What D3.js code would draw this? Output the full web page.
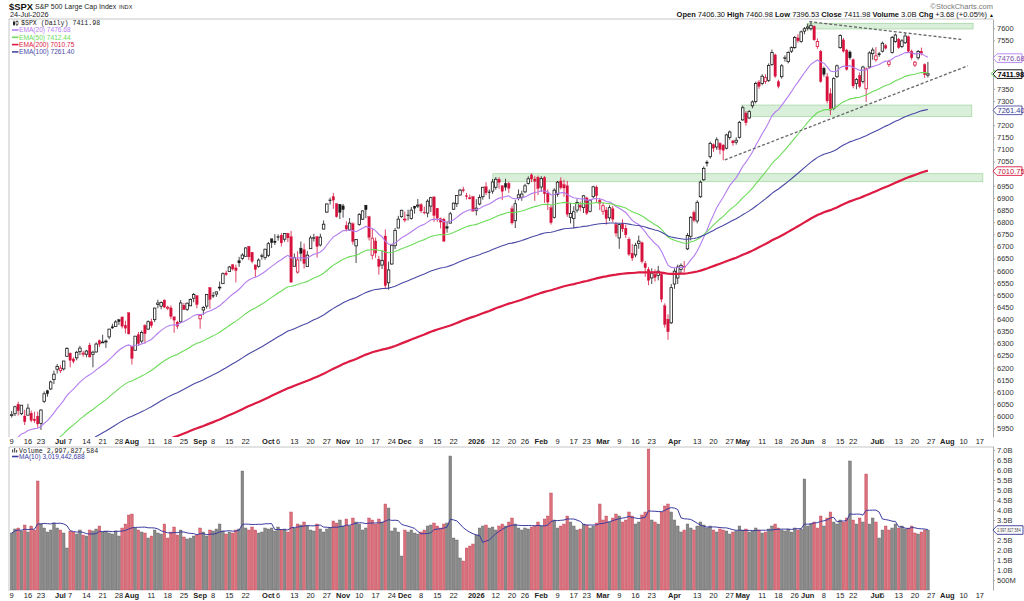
<!DOCTYPE html>
<html>
<head>
<meta charset="utf-8">
<script src="https://cdn.jsdelivr.net/npm/d3@7/dist/d3.min.js"></script>
<style>
body { margin: 0; background: #fff; }
svg { display: block; font-family: "Liberation Sans", Arial, sans-serif; }
.axis text { font-size: 7.5px; fill: #333; font-family: "Liberation Sans", Arial, sans-serif; }
.axis path, .axis line { stroke: #aaa; }
</style>
</head>
<body>
<div class="graphic"></div>
<script>
var width = 1024;
var height = 601;

// trading calendar
var firstDay = "2025-06-09";
var lastAxisDay = "2026-08-21";
var holidays = ["2025-06-19","2025-07-04","2025-09-01","2025-11-27","2025-12-25","2026-01-01",
	"2026-01-19","2026-02-16","2026-04-03","2026-05-25","2026-06-19","2026-07-03"];

// date axis labels
var xTicks = [["2025-06-09","9"],["2025-06-16","16"],["2025-06-23","23"],["2025-07-01","Jul"],["2025-07-07","7"],
	["2025-07-14","14"],["2025-07-21","21"],["2025-07-28","28"],["2025-08-01","Aug"],["2025-08-11","11"],
	["2025-08-18","18"],["2025-08-25","25"],["2025-09-02","Sep"],["2025-09-08","8"],["2025-09-15","15"],
	["2025-09-22","22"],["2025-10-01","Oct"],["2025-10-06","6"],["2025-10-13","13"],["2025-10-20","20"],
	["2025-10-27","27"],["2025-11-03","Nov"],["2025-11-10","10"],["2025-11-17","17"],["2025-11-24","24"],
	["2025-12-01","Dec"],["2025-12-08","8"],["2025-12-15","15"],["2025-12-22","22"],["2026-01-02","2026"],
	["2026-01-12","12"],["2026-01-20","20"],["2026-01-26","26"],["2026-02-02","Feb"],["2026-02-09","9"],
	["2026-02-17","17"],["2026-02-23","23"],["2026-03-02","Mar"],["2026-03-09","9"],["2026-03-16","16"],
	["2026-03-23","23"],["2026-04-01","Apr"],["2026-04-13","13"],["2026-04-20","20"],["2026-04-27","27"],
	["2026-05-01","May"],["2026-05-11","11"],["2026-05-18","18"],["2026-05-26","26"],["2026-06-01","Jun"],
	["2026-06-08","8"],["2026-06-15","15"],["2026-06-22","22"],["2026-07-01","Jul"],["2026-07-06","6"],
	["2026-07-13","13"],["2026-07-20","20"],["2026-07-27","27"],["2026-08-03","Aug"],["2026-08-10","10"],
	["2026-08-17","17"]];

// daily candles, one line per month
var openP = [
	6004.6,6009.9,6049.4,6009.9,6000.6,6004.0,6012.2,5987.9,5999.7,5969.7,6061.2,6104.9,6112.1,6150.7,6193.4,
	6187.3,6194.9,6246.7,6259.8,6235.9,6240.5,6266.0,6255.8,6255.2,6292.9,6254.9,6264.7,6311.6,6304.7,6306.6,6326.9,6368.6,6370.0,6397.7,6409.3,6374.8,6427.0,
	6287.3,6271.7,6336.0,6309.3,6374.3,6359.0,6389.7,6397.9,6460.5,6453.4,6478.9,6445.1,6446.3,6409.6,6388.1,6388.7,6457.7,6440.5,6455.0,6486.3,6497.4,
	6401.5,6437.9,6453.9,6530.1,6498.1,6503.6,6530.3,6546.3,6590.5,6596.8,6624.4,6611.6,6641.2,6650.9,6659.3,6700.3,6676.2,6624.0,6618.0,6661.4,6654.6,
	6663.5,6731.3,6722.1,6740.3,6746.4,6729.6,6753.8,6740.2,6618.1,6594.1,6693.2,6686.7,6617.1,6690.7,6736.3,6740.6,6705.9,6771.5,6841.7,6891.7,6905.7,6876.6,6873.7,
	6867.2,6787.0,6768.1,6793.5,6702.3,6790.9,6812.2,6870.4,6822.6,6663.7,6722.6,6647.2,6623.1,6743.0,6550.0,6627.5,6702.8,6775.7,6822.5,
	6812.4,6830.0,6815.3,6866.5,6866.3,6872.0,6841.3,6837.4,6866.3,6904.1,6857.5,6814.6,6812.6,6781.3,6795.9,6853.4,6876.0,6912.1,6934.3,6908.9,6901.2,6905.5,
	6848,6875,6905,6946,6925,6928,6944,6977,6950,6960,6960,6855,6806,6900,6903,6925,6960,6995,6978,6985,
	6945,6985,6920,6860,6820,6915,6970,6955,6950,6820,6815,6850,6870,6860,6900,6845,6905,6945,6890,
	6845,6850,6818,6855,6790,6735,6795,6775,6730,6672,6665,6712,6715,6630,6605,6570,6585,6580,6585,6455,6400,6385,
	6545,6570,6605,6618,6690,6742,6840,6805,6905,6975,7048,7070,7120,7110,7125,7118,7105,7150,7135,7130,7150,
	7222,7250,7230,7280,7298,7378,7372,7380,7385,7450,7490,7380,7400,7478,7462,7505,7520,7560,7545,7588,
	7600,7598,7608,7525,7505,7435,7400,7330,7270,7400,7520,7552,7510,7502,7470,7372,7405,7380,7350,7440,7495,
	7470,7495,7505,7528,7450,7500,7545,7555,7525,7540,7565,7505,7448,7478,7505,7450,7406.3];
var highP = [
	6021.3,6043.0,6059.4,6045.4,6026.2,6050.8,6023.3,6018.3,6018.2,6028.4,6101.8,6108.5,6146.5,6187.7,6215.1,
	6210.8,6227.6,6284.7,6262.7,6242.7,6269.1,6290.2,6269.4,6273.3,6302.0,6269.7,6304.4,6315.6,6336.1,6316.1,6360.6,6381.3,6395.8,6401.1,6409.3,6393.4,6427.0,
	6287.3,6330.0,6346.9,6352.9,6379.0,6395.2,6402.0,6446.8,6480.3,6473.8,6481.3,6455.4,6456.6,6410.0,6393.2,6478.6,6466.9,6468.4,6485.4,6508.2,6497.5,
	6416.5,6453.7,6502.5,6532.7,6511.6,6513.1,6555.0,6592.9,6600.2,6619.6,6626.9,6624.5,6656.8,6671.8,6696.3,6701.1,6676.2,6624.0,6650.8,6670.0,6690.3,
	6718.5,6731.9,6750.9,6749.5,6754.4,6753.7,6755.9,6764.2,6670.8,6680.2,6720.3,6711.8,6681.3,6744.4,6752.0,6741.7,6752.3,6807.5,6877.0,6901.6,6920.3,6876.6,6873.7,
	6875.6,6803.4,6817.3,6799.2,6730.1,6836.7,6848.6,6870.4,6826.1,6775.3,6736.4,6660.7,6683.2,6770.4,6637.4,6707.5,6776.2,6826.2,6851.0,
	6843.7,6851.6,6862.4,6866.5,6895.8,6878.5,6864.1,6894.5,6904.7,6907.1,6857.5,6819.0,6818.0,6803.5,6842.8,6881.0,6910.6,6937.3,6945.8,6920.3,6913.9,6907.4,
	6895,6914,6945,6965,6935,6978,6986,6985,6952,6979,6967,6868,6891,6935,6930,6958,6989,7002,6990,6992,
	6990,6990,6935,6870,6940,6970,6985,6975,6970,6880,6866,6895,6885,6912,6905,6895,6950,6952,6900,
	6880,6862,6870,6868,6800,6795,6812,6790,6738,6710,6715,6745,6720,6640,6615,6610,6605,6620,6590,6465,6420,6545,
	6610,6625,6630,6640,6755,6825,6848,6890,6972,7030,7055,7132,7125,7150,7130,7122,7165,7178,7140,7150,7218,
	7280,7258,7262,7302,7380,7386,7410,7410,7455,7512,7495,7388,7452,7488,7505,7525,7568,7575,7590,7605,
	7618,7626,7612,7558,7510,7442,7415,7352,7398,7450,7575,7560,7515,7508,7475,7395,7418,7445,7438,7505,7520,
	7522,7502,7545,7535,7470,7568,7578,7560,7555,7582,7570,7512,7465,7510,7520,7455,7460.98];
var lowP = [
	5994.2,6000.3,6002.3,6003.9,5963.2,6004.0,5974.8,5971.9,5952.6,5943.2,6054.6,6080.1,6107.9,6132.4,6175.7,
	6178.0,6188.3,6246.7,6201.8,6217.4,6230.3,6251.7,6245.4,6242.7,6242.7,6201.3,6262.6,6285.2,6303.8,6281.7,6317.5,6360.6,6368.5,6375.8,6361.8,6341.2,6336.3,
	6212.7,6271.7,6289.6,6301.6,6300.3,6355.8,6364.9,6388.4,6445.0,6441.0,6445.7,6437.6,6400.2,6343.9,6360.2,6384.4,6438.1,6434.0,6453.8,6469.7,6444.9,
	6360.6,6417.0,6443.3,6443.0,6487.3,6492.0,6517.8,6545.8,6578.4,6596.8,6600.9,6551.6,6615.5,6643.2,6659.0,6643.3,6630.5,6573.6,6612.0,6645.6,6644.9,
	6656.2,6693.2,6705.7,6723.8,6699.9,6719.3,6717.8,6550.8,6618.1,6587.7,6638.6,6608.7,6615.6,6690.7,6720.0,6654.1,6700.0,6770.4,6838.6,6872.7,6855.1,6818.7,6812.6,
	6818.7,6761.7,6764.7,6707.3,6631.4,6785.6,6809.3,6816.6,6724.7,6646.6,6652.8,6583.7,6607.0,6525.4,6521.2,6624.6,6688.9,6775.7,6818.3,
	6799.9,6806.7,6810.4,6834.9,6858.3,6838.5,6832.5,6820.4,6841.7,6801.5,6801.4,6774.2,6720.0,6756.5,6795.9,6850.3,6862.5,6909.8,6922.9,6893.5,6893.3,6843.5,
	6828,6870,6893,6912,6895,6917,6934,6938,6891,6930,6921,6790,6776,6890,6888,6920,6955,6965,6888,6912,
	6925,6880,6850,6790,6815,6905,6935,6905,6822,6795,6775,6840,6845,6838,6830,6840,6900,6880,6850,
	6830,6790,6805,6800,6740,6690,6760,6735,6660,6640,6655,6690,6630,6575,6540,6545,6555,6560,6470,6365,6315,6380,
	6525,6545,6590,6595,6685,6725,6800,6795,6900,6970,7030,7062,7090,7098,7080,7055,7100,7140,7115,7120,7145,
	7218,7198,7225,7270,7290,7350,7365,7370,7378,7445,7395,7352,7392,7462,7455,7498,7515,7540,7540,7575,
	7590,7590,7548,7515,7375,7400,7290,7242,7262,7395,7515,7500,7425,7470,7352,7348,7352,7372,7296,7435,7470,
	7462,7482,7500,7512,7440,7495,7540,7515,7518,7535,7500,7470,7440,7470,7488,7395,7396.53];
var closeP = [
	6005.9,6038.8,6022.2,6045.3,5977.0,6033.1,5982.7,5980.9,5967.8,6025.2,6092.2,6092.2,6141.0,6173.1,6205.0,
	6198.0,6227.4,6279.4,6230.0,6225.5,6263.3,6280.5,6259.8,6268.6,6243.8,6263.7,6297.4,6296.8,6305.6,6309.6,6358.9,6363.4,6388.6,6389.8,6370.9,6362.9,6339.4,
	6238.0,6329.9,6299.2,6345.1,6340.0,6389.5,6373.5,6445.8,6466.6,6468.5,6449.8,6449.2,6411.4,6395.8,6370.2,6466.9,6439.3,6465.9,6481.4,6501.9,6460.3,
	6415.5,6448.3,6502.1,6481.5,6495.2,6512.6,6532.0,6587.5,6584.3,6615.3,6606.8,6600.4,6632.0,6664.4,6693.8,6656.9,6638.0,6604.7,6643.7,6661.2,6688.5,
	6711.2,6715.4,6715.8,6740.3,6714.6,6753.7,6735.1,6552.5,6654.7,6644.3,6671.1,6629.1,6664.0,6735.1,6735.4,6699.4,6738.4,6791.7,6875.2,6890.9,6890.6,6822.3,6840.2,
	6852.0,6771.6,6796.3,6720.3,6728.8,6832.4,6846.6,6850.9,6737.5,6734.1,6672.4,6617.3,6642.2,6538.8,6603.0,6705.1,6765.9,6812.6,6849.1,
	6812.6,6829.4,6849.7,6857.1,6870.4,6846.5,6840.5,6886.7,6901.0,6827.4,6816.5,6800.3,6721.4,6774.8,6834.5,6878.5,6909.8,6932.1,6929.9,6905.7,6896.2,6845.5,
	6858,6902,6944,6921,6922,6966,6977,6964,6927,6944,6940,6797,6876,6913,6916,6950,6979,6978,6969,6939,
	6980,6917,6883,6798,6932,6965,6942,6941,6833,6836,6843,6881,6862,6909,6837,6890,6946,6909,6878,
	6868,6815,6860,6812,6755,6790,6772,6748,6668,6652,6705,6722,6638,6612,6560,6590,6572,6598,6482,6378,6348,6530,
	6598,6615,6622,6612,6745,6820,6808,6882,6965,7022,7043,7125,7105,7140,7100,7096,7160,7172,7127,7138,7212,
	7272,7210,7256,7296,7372,7360,7402,7396,7446,7500,7402,7360,7445,7475,7500,7520,7562,7548,7585,7598,
	7605,7612,7552,7545,7380,7410,7300,7262,7392,7445,7570,7505,7430,7478,7362,7388,7360,7440,7432,7498,7510,
	7486,7490,7538,7518,7462,7562,7572,7520,7548,7568,7505,7478,7460,7504,7496,7408.3,7411.98];
// daily volume, billions of shares
var volB = [
	2.85,3.05,3.1,2.95,3.25,2.9,3.2,3.0,5.45,3.3,3.1,2.9,3.0,3.35,3.1,
	3.0,2.85,2.1,2.95,2.9,2.8,3.0,2.75,2.7,3.0,2.95,3.05,3.2,2.9,2.95,2.85,2.8,2.95,2.7,3.1,3.3,3.75,
	3.8,3.1,3.0,2.9,2.85,2.6,2.7,3.0,2.85,2.8,3.3,2.6,2.9,3.15,2.75,3.0,2.65,2.55,2.6,2.7,2.75,
	3.1,2.9,2.7,3.0,2.95,3.05,3.3,2.95,2.8,2.9,2.85,3.0,3.05,5.95,3.1,3.0,3.15,3.0,2.85,2.9,3.1,
	3.05,3.1,2.95,3.15,3.0,3.05,2.9,3.9,3.1,3.3,3.25,3.4,3.2,3.0,2.95,3.3,3.05,2.9,3.05,3.1,3.45,3.35,3.5,
	3.2,3.55,3.2,3.6,3.4,3.3,3.0,3.1,3.6,3.5,3.3,3.55,3.4,4.3,4.1,2.95,3.1,2.9,1.7,
	3.0,2.9,3.0,2.85,2.8,2.9,3.0,3.2,3.25,3.35,3.2,3.1,3.3,3.35,6.7,2.6,2.5,1.6,1.45,2.1,2.2,2.3,
	2.75,3.1,3.2,3.25,3.1,3.15,3.0,3.2,3.3,3.2,3.4,3.6,3.3,3.1,3.0,3.1,3.05,3.15,3.2,3.4,
	3.2,3.55,3.7,4.85,3.5,3.1,3.2,3.3,3.7,3.4,3.2,3.0,3.05,3.3,3.25,3.1,3.2,3.35,4.3,
	3.5,3.7,3.4,3.6,3.8,3.7,3.4,3.5,3.9,3.7,3.3,3.4,3.75,3.9,7.05,3.5,3.4,3.3,3.9,4.2,4.3,3.9,
	3.5,3.2,2.9,3.0,3.3,3.1,3.0,3.2,3.4,3.25,3.1,3.2,3.0,2.9,3.05,3.0,2.95,2.8,2.9,2.95,3.2,
	3.0,3.05,2.9,2.95,3.1,3.0,2.85,2.9,3.05,3.2,3.3,3.1,3.0,2.95,3.05,2.9,3.1,3.0,3.05,5.55,
	3.2,3.3,3.4,3.1,3.7,3.2,3.6,3.9,3.4,3.3,3.5,3.4,3.6,6.45,3.5,3.3,3.6,3.4,5.8,3.3,3.6,
	3.4,2.6,3.0,3.2,3.0,3.1,3.3,3.1,3.2,3.05,3.1,3.2,2.85,2.8,2.9,3.0,2.998];

// moving averages: period, value carried in from before the first day, value printed in the legend
var emaPeriods = [20, 50, 200, 100];
var emaSeeds = [5876, 5775, 5677, 5743];
var emaLast = ["7476.68", "7412.44", "7010.75", "7261.40"];

// drawn annotations (day index, price)
var zoneFrom = [244.8, 224.7, 148.1];
var zoneTo = [295.9, 295.5, 298.9];
var zoneLow = [7597, 7236, 6967];
var zoneHigh = [7620, 7283, 7000];
var trendUpper = [[245.5, 7627], [292.8, 7553]];
var trendLower = [[219.5, 7057], [294.3, 7445]];

var priceTicks = d3.range(5950, 7601, 50);
var volTicks = [0.5, 1, 1.5, 2, 2.5, 3, 3.5, 4, 4.5, 5, 5.5, 6, 6.5, 7];

// ---- styles
var emaColors = ["#b47cf0", "#6ddc5a", "#dd1a42", "#4a4aa6"];
var emaWidths = [1.1, 1.1, 2.2, 1.1];
var redC = "#d6113c";
var blackC = "#1a1a1a";

var svg = d3.select("div.graphic").append("svg")
	.attr("width", width)
	.attr("height", height);

// build the calendar of trading days
var parseDay = d3.utcParse("%Y-%m-%d");
var fmtDay = d3.utcFormat("%Y-%m-%d");
var days = [];
for (var d = parseDay(firstDay); d <= parseDay(lastAxisDay); d = d3.utcDay.offset(d, 1)) {
	var wd = d.getUTCDay();
	if (wd == 0 || wd == 6) continue;
	if (holidays.indexOf(fmtDay(d)) >= 0) continue;
	days.push(fmtDay(d));
}

var n = closeP.length;
var x = d3.scaleLinear().domain([0, n - 1]).range([11.7, 927.9]);
var y = d3.scaleLinear().domain([5914, 7638]).range([437, 19]);
var yv = d3.scaleLinear().domain([0, 7.2]).range([590, 446]);

svg.append("clipPath").attr("id", "priceClip")
	.append("rect").attr("x", 9).attr("y", 19).attr("width", 984).attr("height", 418);
svg.append("clipPath").attr("id", "volClip")
	.append("rect").attr("x", 9).attr("y", 447).attr("width", 984).attr("height", 144);

// frames
var frame = svg.append("g").attr("stroke", "#b8b8b8").attr("fill", "none").attr("stroke-width", 0.8);
frame.append("path").attr("d", "M9,437V19H993");
frame.append("path").attr("d", "M9,591V447H993");

// ---- price panel
var price = svg.append("g").attr("clip-path", "url(#priceClip)");

price.selectAll("rect.zone")
	.data(zoneFrom)
	.enter()
	.append("rect")
	.attr("class", "zone")
	.attr("x", function(v) { return x(v); })
	.attr("width", function(v, k) { return x(zoneTo[k]) - x(v); })
	.attr("y", function(v, k) { return y(zoneHigh[k]); })
	.attr("height", function(v, k) { return y(zoneLow[k]) - y(zoneHigh[k]); })
	.attr("fill", "rgba(150,210,150,0.35)")
	.attr("stroke", "#a6d8a6")
	.attr("stroke-width", 0.8);

var candles = d3.range(n).map(function(i) {
	return { i: i, o: openP[i], h: highP[i], l: lowP[i], c: closeP[i], prev: i ? closeP[i - 1] : openP[i] };
});
function candleColor(k) { return k.c >= k.prev ? blackC : redC; }

price.selectAll("line.wick")
	.data(candles)
	.enter()
	.append("line")
	.attr("class", "wick")
	.attr("x1", function(k) { return x(k.i); })
	.attr("x2", function(k) { return x(k.i); })
	.attr("y1", function(k) { return y(k.h); })
	.attr("y2", function(k) { return y(k.l); })
	.attr("stroke", candleColor)
	.attr("stroke-width", 0.8);

price.selectAll("rect.body")
	.data(candles)
	.enter()
	.append("rect")
	.attr("class", "body")
	.attr("x", function(k) { return x(k.i) - 1.25; })
	.attr("width", 2.5)
	.attr("y", function(k) { return y(Math.max(k.o, k.c)); })
	.attr("height", function(k) { return Math.max(0.8, Math.abs(y(k.o) - y(k.c))); })
	.attr("fill", function(k) { return k.c > k.o ? "#fff" : candleColor(k); })
	.attr("stroke", candleColor)
	.attr("stroke-width", function(k) { return k.c > k.o ? 0.8 : 0.3; });

function ema(period, seed) {
	var k = 2 / (period + 1), prev = seed;
	return closeP.map(function(c) { prev = prev + k * (c - prev); return prev; });
}
var emaLine = d3.line()
	.x(function(v, i) { return x(i); })
	.y(function(v) { return y(v); });
emaPeriods.forEach(function(p, k) {
	price.append("path")
		.datum(ema(p, emaSeeds[k]))
		.attr("d", emaLine)
		.attr("fill", "none")
		.attr("stroke", emaColors[k])
		.attr("stroke-width", emaWidths[k]);
});

[trendUpper, trendLower].forEach(function(t) {
	price.append("line")
		.attr("x1", x(t[0][0])).attr("y1", y(t[0][1]))
		.attr("x2", x(t[1][0])).attr("y2", y(t[1][1]))
		.attr("stroke", "#666")
		.attr("stroke-width", 1.3)
		.attr("stroke-dasharray", "3,2");
});

// right-edge value tags; tick labels sitting under a tag are left out
var tagPrices = [+emaLast[0], +emaLast[1], closeP[n - 1], +emaLast[3], +emaLast[2]];
function freeTick(v) {
	return tagPrices.every(function(t) { return Math.abs(y(t) - y(v)) > 6.5; });
}

svg.append("g")
	.attr("class", "axis")
	.attr("transform", "translate(993,0)")
	.call(d3.axisRight(y).tickValues(priceTicks.filter(freeTick)).tickSizeInner(2).tickSizeOuter(0).tickPadding(2)
		.tickFormat(d3.format("d")));

function tag(yy, txt, stroke, color, bold) {
	svg.append("path")
		.attr("d", "M993," + yy + "L997," + (yy - 4.3) + "H1022V" + (yy + 4.3) + "H997Z")
		.attr("fill", "#fff").attr("stroke", stroke).attr("stroke-width", 0.9);
	svg.append("text").attr("x", 997.5).attr("y", yy + 2.7)
		.attr("font-size", 7.5).attr("font-weight", bold ? "bold" : "normal")
		.attr("fill", color).text(txt);
}
tag(y(+emaLast[0]), emaLast[0], emaColors[0], "#7a55a8");
// EMA(50) tag sits under the close tag, only its point shows
svg.append("path")
	.attr("d", "M991," + y(+emaLast[1]) + "L995," + (y(+emaLast[1]) - 3.5) + "V" + (y(+emaLast[1]) + 3.5) + "Z")
	.attr("fill", "#fff").attr("stroke", emaColors[1]).attr("stroke-width", 0.9);
tag(y(closeP[n - 1]) + 0.3, "7411.98", "#000", "#000", true);
tag(y(+emaLast[3]), emaLast[3], emaColors[3], "#3a3a90");
tag(y(+emaLast[2]), emaLast[2], emaColors[2], "#c02040");

// ---- volume panel
var vol = svg.append("g").attr("clip-path", "url(#volClip)");
vol.selectAll("rect.vol")
	.data(candles)
	.enter()
	.append("rect")
	.attr("class", "vol")
	.attr("x", function(k) { return x(k.i) - 1.35; })
	.attr("width", 2.7)
	.attr("y", function(k) { return yv(volB[k.i]); })
	.attr("height", function(k) { return yv(0) - yv(volB[k.i]); })
	.attr("fill", function(k) { return k.c >= k.prev ? "#8a8a8a" : "#d9707b"; })
	.attr("stroke", function(k) { return k.c >= k.prev ? "#5e5e5e" : "#c04858"; })
	.attr("stroke-width", 0.4);

var volMA = volB.map(function(v, i) { return d3.mean(volB.slice(Math.max(0, i - 9), i + 1)); });
vol.append("path")
	.datum(volMA)
	.attr("d", d3.line().x(function(v, i) { return x(i); }).y(function(v) { return yv(v); }))
	.attr("fill", "none")
	.attr("stroke", "#3a3aa0")
	.attr("stroke-width", 1);

var vy = yv(volB[n - 1]);
svg.append("g")
	.attr("class", "axis")
	.attr("transform", "translate(993,0)")
	.call(d3.axisRight(yv).tickValues(volTicks.filter(function(v) { return Math.abs(yv(v) - vy) > 6.5; }))
		.tickSizeInner(2).tickSizeOuter(0).tickPadding(2)
		.tickFormat(function(v) { return v < 1 ? (v * 1000) + "M" : v.toFixed(1) + "B"; }));

svg.append("path")
	.attr("d", "M993," + vy + "L997," + (vy - 4.3) + "H1023V" + (vy + 4.3) + "H997Z")
	.attr("fill", "#fff").attr("stroke", "#33339a").attr("stroke-width", 0.9);
svg.append("text").attr("x", 997.2).attr("y", vy + 2.2).attr("font-size", 5.6)
	.attr("textLength", 23.5).attr("lengthAdjust", "spacingAndGlyphs")
	.attr("fill", "#444").text("2,997,827,584");

// ---- date labels, between the panels and under the volume
[444, 598].forEach(function(by) {
	svg.append("g").selectAll("text")
		.data(xTicks)
		.enter()
		.append("text")
		.attr("x", function(t) { return x(days.indexOf(t[0])); })
		.attr("y", by)
		.attr("text-anchor", "middle")
		.attr("font-size", 7.5)
		.attr("fill", "#222")
		.attr("font-weight", function(t) { return (isNaN(+t[1]) || +t[1] > 31) ? "bold" : "normal"; })
		.text(function(t) { return t[1]; });
});

// ---- header
svg.append("text").attr("x", 9).attr("y", 9.6).attr("font-size", 9.4).attr("font-weight", "bold")
	.attr("fill", "#111").text("$SPX");
svg.append("text").attr("x", 35).attr("y", 9.4).attr("font-size", 7).attr("fill", "#222")
	.text("S&P 500 Large Cap Index");
svg.append("text").attr("x", 119).attr("y", 9.4).attr("font-size", 5.6).attr("fill", "#222").text("INDX");
svg.append("text").attr("x", 10).attr("y", 17.2).attr("font-size", 7.3).attr("fill", "#222").text("24-Jul-2026");

svg.append("text").attr("x", 993).attr("y", 8.5).attr("text-anchor", "end").attr("font-size", 7.5)
	.attr("fill", "#777").text("\u00a9StockCharts.com");

var hdrNames = ["Open", "High", "Low", "Close", "Volume", "Chg"];
var hdrValues = ["7406.30", "7460.98", "7396.53", "7411.98", "3.0B", "+3.68 (+0.05%)"];
var hdr = svg.append("text").attr("x", 987).attr("y", 17.4).attr("text-anchor", "end")
	.attr("font-size", 7.5).attr("fill", "#111");
hdrNames.forEach(function(h, k) {
	hdr.append("tspan").attr("font-weight", "bold").text((k ? "  " : "") + h + " ");
	hdr.append("tspan").text(hdrValues[k]);
});
svg.append("text").attr("x", 989).attr("y", 17).attr("font-size", 5).attr("fill", "#111").text("\u25b2");

// price legend
var leg = svg.append("g");
leg.append("line").attr("x1", 14).attr("x2", 14).attr("y1", 20.5).attr("y2", 26).attr("stroke", "#222").attr("stroke-width", 0.8);
leg.append("rect").attr("x", 13).attr("y", 21.8).attr("width", 2).attr("height", 3).attr("fill", "#222");
leg.append("line").attr("x1", 17).attr("x2", 17).attr("y1", 20.5).attr("y2", 26).attr("stroke", "#222").attr("stroke-width", 0.8);
leg.append("rect").attr("x", 16).attr("y", 21.5).attr("width", 2).attr("height", 3).attr("fill", "#fff").attr("stroke", "#222").attr("stroke-width", 0.6);
leg.append("text").attr("x", 21).attr("y", 25.4).attr("font-family", "'Liberation Mono', 'DejaVu Sans Mono', monospace")
	.attr("font-size", 6.6).attr("fill", "#222").text("$SPX (Daily) 7411.98");
emaPeriods.forEach(function(p, k) {
	var ly = 30 + k * 7.3;
	leg.append("line").attr("x1", 12).attr("x2", 18.5).attr("y1", ly).attr("y2", ly)
		.attr("stroke", emaColors[k]).attr("stroke-width", 1.6);
	leg.append("text").attr("x", 19).attr("y", ly + 2.4).attr("font-size", 6.6)
		.attr("fill", emaColors[k]).text("EMA(" + p + ") " + emaLast[k]);
});

// volume legend
leg.append("rect").attr("x", 12).attr("y", 449.5).attr("width", 1.2).attr("height", 3).attr("fill", "#555");
leg.append("rect").attr("x", 14).attr("y", 448).attr("width", 1.2).attr("height", 4.5).attr("fill", "#555");
leg.append("rect").attr("x", 16).attr("y", 450).attr("width", 1.2).attr("height", 2.5).attr("fill", "#555");
leg.append("text").attr("x", 19).attr("y", 452.6).attr("font-family", "'Liberation Mono', 'DejaVu Sans Mono', monospace")
	.attr("font-size", 6.6).attr("fill", "#222").text("Volume 2,997,827,584");
leg.append("line").attr("x1", 12).attr("x2", 18.5).attr("y1", 456.5).attr("y2", 456.5)
	.attr("stroke", "#3a3aa0").attr("stroke-width", 1.6);
leg.append("text").attr("x", 19).attr("y", 458.9).attr("font-size", 6.6)
	.attr("fill", "#3a3aa0").text("MA(10) 3,019,442,688");
</script>
</body>
</html>
